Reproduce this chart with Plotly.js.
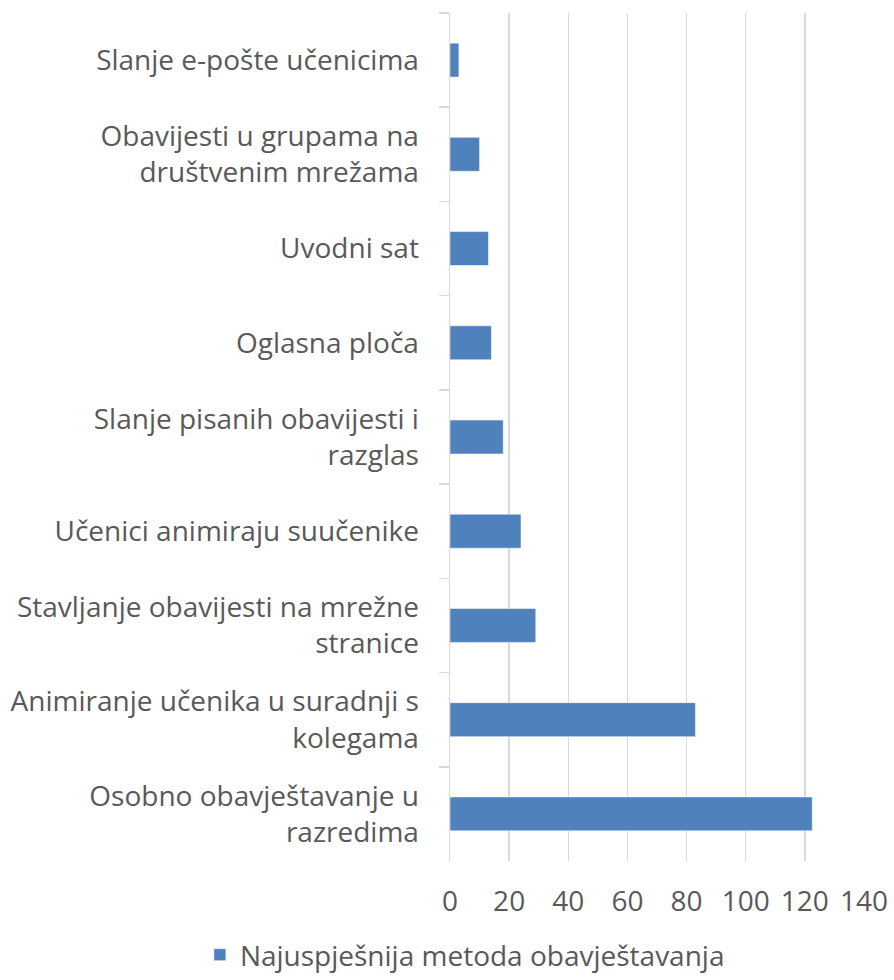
<!DOCTYPE html>
<html><head><meta charset="utf-8">
<script src="https://cdn.plot.ly/plotly-3.0.1.min.js"></script>
<style>html,body{margin:0;padding:0;background:#fff}#chart{width:894px;height:980px}</style>
</head><body><div id="chart"></div>
<script>
const categories = [
  "Slanje e-pošte učenicima",
  "Obavijesti u grupama na<br>društvenim mrežama",
  "Uvodni sat",
  "Oglasna ploča",
  "Slanje pisanih obavijesti i<br>razglas",
  "Učenici animiraju suučenike",
  "Stavljanje obavijesti na mrežne<br>stranice",
  "Animiranje učenika u suradnji s<br>kolegama",
  "Osobno obavještavanje u<br>razredima"
];
const values = [3, 10, 13, 14, 18, 24, 29, 83, 122.5];
const seriesName = "Najuspješnija metoda obavještavanja";
const xTicks = [0, 20, 40, 60, 80, 100, 120, 140];

const trace = {
  type: 'bar', orientation: 'h',
  y: categories, x: values, name: seriesName,
  marker: {color: '#4f81bd', line: {color: '#ffffff', width: 0.5}},
  hoverinfo: 'x+y'
};
const layout = {
  width: 894, height: 980,
  margin: {l: 450, r: 30, t: 13, b: 119, autoexpand: false},
  paper_bgcolor: '#fff', plot_bgcolor: '#fff',
  font: {family: 'Open Sans, sans-serif', color: '#595959', size: 28},
  bargap: 0.64,
  showlegend: true,
  legend: {orientation: 'h', xref: 'container', x: 0.52, xanchor: 'center',
           yref: 'container', y: -0.008, yanchor: 'bottom',
           font: {size: 28, color: '#595959'}},
  xaxis: {range: [0, 140], tickvals: xTicks, ticktext: xTicks.map(String),
          showgrid: true, gridcolor: '#d9d9d9', gridwidth: 1.5,
          zeroline: false, showline: false, ticks: '', ticklabelstandoff: 21,
          tickfont: {size: 28, color: '#595959'}, fixedrange: true},
  yaxis: {type: 'category', autorange: 'reversed', showgrid: false, zeroline: false,
          showline: true, linecolor: '#d9d9d9', linewidth: 1.5,
          ticks: 'outside', tickson: 'boundaries', ticklen: 10, tickcolor: '#d9d9d9', tickwidth: 1.5,
          ticklabelstandoff: 24, tickfont: {size: 28, color: '#595959'}, fixedrange: true}
};
Plotly.newPlot('chart', [trace], layout, {displayModeBar: false, staticPlot: true});
</script></body></html>
